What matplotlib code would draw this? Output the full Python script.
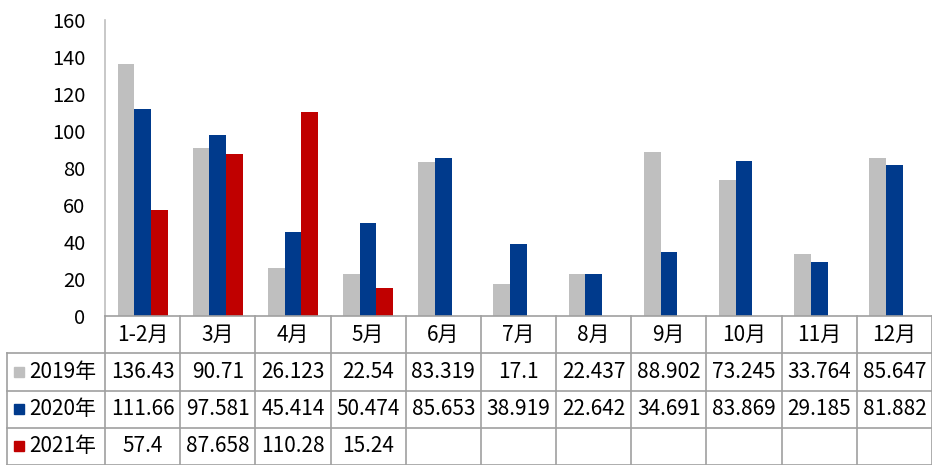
import numpy as np
import matplotlib
matplotlib.use("Agg")
import matplotlib.pyplot as plt

plt.rcParams['font.family'] = ['Noto Sans CJK SC', 'DejaVu Sans']

months = ['1-2月', '3月', '4月', '5月', '6月', '7月', '8月', '9月', '10月', '11月', '12月']
series_names = ['2019年', '2020年', '2021年']
v2019 = [136.43, 90.71, 26.123, 22.54, 83.319, 17.1, 22.437, 88.902, 73.245, 33.764, 85.647]
v2020 = [111.66, 97.581, 45.414, 50.474, 85.653, 38.919, 22.642, 34.691, 83.869, 29.185, 81.882]
v2021 = [57.4, 87.658, 110.28, 15.24]
colors = ['#BFBFBF', '#003A8C', '#C00000']

W, H = 932, 465
fig = plt.figure(figsize=(W / 100, H / 100), dpi=100)

# bar chart area
ax = fig.add_axes([105 / W, 149 / H, 827 / W, 296 / H])
x = np.arange(len(months))
bw = 0.222
all_series = [v2019, v2020, v2021]
for k, (vals, c) in enumerate(zip(all_series, colors)):
    xs = x[:len(vals)] + (k - 1) * bw
    ax.bar(xs, vals, width=bw, color=c, zorder=2)

ax.set_xlim(-0.5, len(months) - 0.5)
ax.set_ylim(0, 160)
ax.set_yticks(np.arange(0, 161, 20))
ax.set_xticks([])
ax.tick_params(axis='y', length=0, pad=14, labelsize=14.5)
for s in ['top', 'right', 'bottom']:
    ax.spines[s].set_visible(False)
ax.spines['left'].set_color('#BFBFBF')
ax.spines['left'].set_linewidth(1.2)

# data table below
label_w = 98 / 75.2
tab = fig.add_axes([7 / W, 0, 925 / W, 149 / H])
tab.set_xlim(-0.5 - label_w, len(months) - 0.5)
tab.set_ylim(4, 0)
tab.axis('off')
lc = '#A0A0A0'
lw = 1.2
left = -0.5 - label_w
right = len(months) - 0.5
tab.plot([-0.5, right], [0, 0], color=lc, lw=lw, clip_on=False)
for yy in [1, 2, 3, 4]:
    tab.plot([left, right], [yy, yy], color=lc, lw=lw, clip_on=False)
for i in range(len(months) + 1):
    tab.plot([i - 0.5, i - 0.5], [0, 4], color=lc, lw=lw, clip_on=False)
tab.plot([left, left], [1, 4], color=lc, lw=lw, clip_on=False)

for i, m in enumerate(months):
    tab.text(i, 0.5, m, ha='center', va='center', fontsize=15)

for r, (name, vals, c) in enumerate(zip(series_names, all_series, colors)):
    yy = r + 1.5
    tab.plot(left + 12.5 / 75.2, yy, marker='s', ms=7.5, color=c, clip_on=False)
    tab.text(left + 22 / 75.2, yy, name, ha='left', va='center', fontsize=15)
    for i, v in enumerate(vals):
        tab.text(i, yy, str(v), ha='center', va='center', fontsize=15)

fig.savefig('out.png', dpi=100)
